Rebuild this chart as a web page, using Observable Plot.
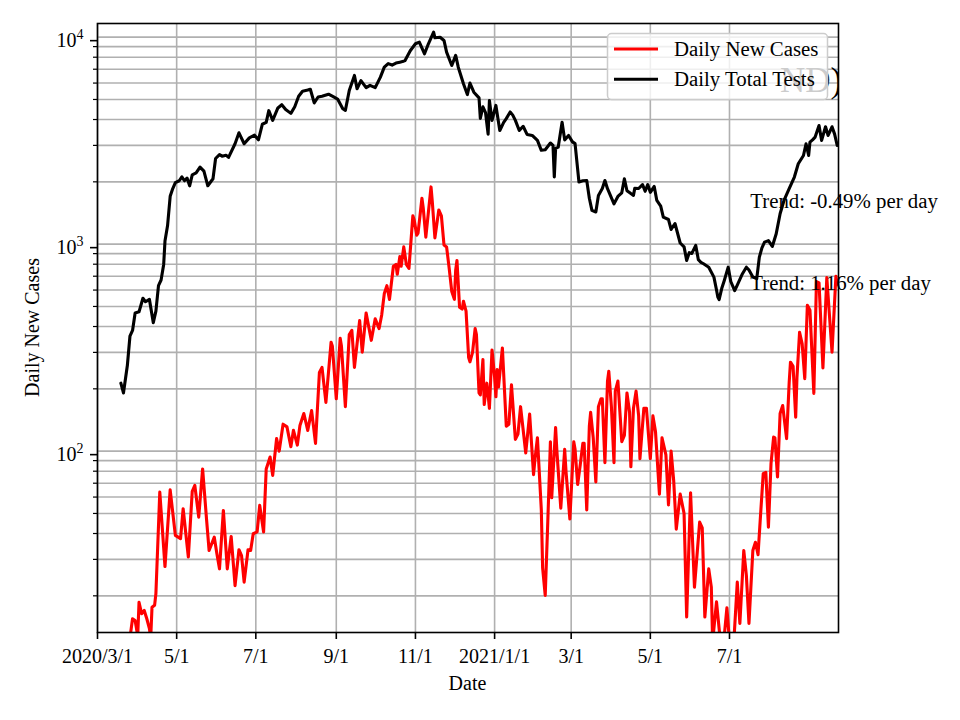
<!DOCTYPE html>
<html><head><meta charset="utf-8">
<script src="https://cdn.jsdelivr.net/npm/d3@7"></script>
<script src="https://cdn.jsdelivr.net/npm/@observablehq/plot@0.6"></script>
<style>html,body{margin:0;padding:0;background:#fff;} svg{display:block;}</style>
</head><body><div id="chart"></div>
<script>
// ---- data ----
const startDate = "2020-03-01";
const endDate = "2021-09-23";

// days since 2020-03-01 and daily total tests
const testsDay = [18,20,23,25,27,29,32,35,37,40,43,45,47,49,51,52,54,56,58,60,63,65,67,69,71,73,76,79,82,85,89,91,94,96,99,101,106,109,113,117,121,124,127,130,132,135,139,142,145,149,152,155,158,162,164,167,170,173,178,182,185,189,191,194,198,200,203,207,210,214,218,221,224,227,230,233,235,237,241,245,248,252,255,259,260,264,267,269,273,276,278,282,285,287,290,294,295,297,299,301,302,304,307,310,313,315,318,320,322,325,328,331,335,339,342,345,349,351,352,353,355,358,360,363,366,368,371,374,377,379,381,384,386,389,391,393,398,401,404,406,408,411,413,414,417,420,422,424,426,429,431,434,436,440,442,445,447,449,452,454,456,458,461,463,465,467,471,475,477,478,479,481,483,486,488,491,493,497,500,502,505,508,510,512,514,517,520,523,526,529,533,537,540,544,546,548,549,551,553,556,558,561,563,566,568,570];
const testsValue = [213,191,259,359,383,465,471,548,527,541,417,475,630,671,798,1035,1230,1703,1857,1983,2024,2114,2024,2085,1914,2161,2209,2356,2255,1914,2070,2592,2707,2660,2690,2625,3055,3450,3055,3261,3360,3190,3795,3875,4413,3963,4550,4714,4470,4283,4612,5180,5480,5550,5600,4810,5140,5180,5300,5140,5025,4510,4430,5520,6530,5630,6170,5700,5850,5700,6410,7160,7450,7330,7500,7570,7620,7710,8600,9290,9460,8310,9290,10570,9930,9990,9640,8470,7300,8160,7160,5960,5280,6000,5420,5090,4045,4610,4320,3400,4940,3960,4680,3540,3875,4040,4350,4200,3960,3540,3710,3390,3350,3170,2840,2860,3080,3000,2110,2900,2940,3880,3190,3350,3120,3060,1995,2024,2030,1667,1457,1430,1720,1857,2030,1853,1565,1700,1770,2070,1812,1755,1720,1860,1857,1940,1800,1940,1780,1900,1626,1527,1350,1315,1178,1258,1129,1013,970,834,910,902,986,841,817,804,774,693,600,555,540,610,668,774,660,597,634,720,774,750,693,681,865,960,1023,1040,975,1122,1403,1626,1853,2110,2445,2680,3055,2683,3110,3190,3290,3740,3170,3690,3350,3690,3400,3000];

// days since 2020-03-01 and daily new cases
const casesDay = [20,23,25,27,29,31,32,34,36,38,40,41,42,44,45,48,52,56,60,64,66,70,73,75,78,81,84,86,90,92,94,97,100,103,106,109,111,113,116,118,120,123,125,128,130,133,135,138,140,143,146,149,151,154,156,159,162,165,168,171,173,176,180,181,184,187,188,191,194,196,198,202,204,207,211,214,217,219,221,223,225,228,230,231,233,234,236,238,240,243,244,246,247,250,251,253,257,258,260,263,265,267,269,271,273,275,276,277,279,281,282,284,286,287,289,291,292,294,295,297,298,300,301,302,304,306,307,308,309,312,315,317,319,322,324,326,330,333,336,337,339,342,343,345,347,349,350,353,354,357,360,361,364,367,368,370,372,374,375,377,379,380,382,384,386,388,389,391,393,394,396,398,399,401,402,404,406,408,410,411,413,415,417,418,421,423,426,428,430,433,435,438,440,442,444,446,449,452,454,457,460,464,466,468,471,473,474,477,480,482,485,487,490,493,495,498,500,502,505,507,509,511,513,515,517,519,521,522,524,526,528,531,533,534,536,538,539,541,543,545,547,549,552,554,556,559,562,566,569,570];
const casesValue = [8,10,12.5,15.5,15.2,12.8,18.6,16.4,17,15.5,13.9,12.5,17.6,18,20.5,63.4,27.7,65,39.2,37.8,52.7,30.8,64,68.3,48,82,47.1,33.1,38.4,31.9,27,51.7,27,38.7,22.4,33.4,31.3,23.3,33.4,33.1,39.9,40.7,54.7,40.7,82,93.6,76.4,115,100,135,131,105,126,107,133,152,126,157,109,240,254,172,336,321,179,351,321,164,366,383,254,427,301,465,343,436,391,455,577,630,541,782,798,716,871,782,970,798,764,1371,1313,1105,1130,1667,1496,1081,1890,1600,1072,1463,1371,991,970,764,590,541,748,834,496,486,530,475,283,270,300,391,366,191,187,277,168,213,187,161,308,228,183,248,204,315,132,135,209,114,121,164,98,151,77,90,116,52,27.3,20.1,45.9,111,59.5,130,100,53,102,80,47,111,102,69,86,109,109,52,132,154,116,71,164,179,179,88,218,243,164,88,195,218,175,111,119,191,154,84,161,195,148,92,161,161,92,148,124,62,116,96,55,100,72,42,62,50,15.8,63,22,45.4,42.6,15.8,27,22,12,18.7,12,11,17.5,12,11,23.3,14.7,33.1,25.1,14.7,33.1,36.3,31.6,49.9,77.8,79,42.9,87,117,116,75,152,166,115,215,269,257,146,228,375,330,224,507,480,190,660,650,252,690,301,700,640];

// axis ticks
const xTickDates = ["2020-03-01","2020-05-01","2020-07-01","2020-09-01","2020-11-01","2021-01-01","2021-03-01","2021-05-01","2021-07-01"];
const xTickLabels = ["2020/3/1","5/1","7/1","9/1","11/1","2021/1/1","3/1","5/1","7/1"];
const yMajorTicks = [100, 1000, 10000];
const yMinorTicks = [20,30,40,50,60,70,80,90,200,300,400,500,600,700,800,900,2000,3000,4000,5000,6000,7000,8000,9000];
const yDomain = [13.3, 11640];

// annotations
const trendDate = "2021-07-17";
const trendLabels = ["Trend: -0.49% per day", "Trend: 1.16% per day"];
const trendValues = [1500, 600];
const seriesNames = ["Daily New Cases", "Daily Total Tests"];
const seriesColors = ["red", "black"];

// ---- build ----
const start = new Date(startDate + "T00:00:00Z");
const toDate = d => new Date(start.getTime() + d * 864e5);
const tests = testsDay.map((d, i) => ({date: toDate(d), value: testsValue[i]}));
const cases = casesDay.map((d, i) => ({date: toDate(d), value: casesValue[i]}));
const xTicks = xTickDates.map(s => new Date(s + "T00:00:00Z"));
const labelByTime = new Map(xTicks.map((d, i) => [+d, xTickLabels[i]]));
const notes = trendLabels.map((t, i) => ({date: new Date(trendDate + "T00:00:00Z"), value: trendValues[i], label: t}));

const FONT = "'Liberation Serif', 'Times New Roman', serif";
const grid = "#b0b0b0";

const plot = Plot.plot({
  width: 960, height: 720,
  marginTop: 23, marginRight: 122, marginBottom: 88, marginLeft: 97,
  style: {fontFamily: FONT, fontSize: "20px", color: "black", background: "white", overflow: "visible"},
  x: {type: "utc", domain: [start, new Date(endDate + "T00:00:00Z")]},
  y: {type: "log", domain: yDomain},
  marks: [
    Plot.ruleY([...yMajorTicks, ...yMinorTicks], {stroke: grid, strokeWidth: 1.6}),
    Plot.ruleX(xTicks, {stroke: grid, strokeWidth: 1.6}),
    Plot.line(cases, {x: "date", y: "value", stroke: seriesColors[0], strokeWidth: 3.1, strokeLinejoin: "round", clip: true}),
    Plot.line(tests, {x: "date", y: "value", stroke: seriesColors[1], strokeWidth: 3.1, strokeLinejoin: "round", clip: true}),
    Plot.text(notes, {x: "date", y: "value", text: "label", textAnchor: "start", lineAnchor: "bottom", fill: "black", fontSize: 20.8}),
    Plot.frame({stroke: "black", strokeWidth: 1.6}),
    Plot.axisX(xTicks, {tickSize: 7, tickPadding: 9, strokeWidth: 1.6, tickFormat: d => labelByTime.get(+d), label: null}),
    Plot.axisY(yMajorTicks, {tickSize: 7, tickPadding: 7, strokeWidth: 1.6, dy: 3.5, tickFormat: d => "10^" + Math.round(Math.log10(d)), label: null}),
    Plot.axisY(yMinorTicks, {tickSize: 4, strokeWidth: 1.2, tickFormat: () => "", label: null})
  ]
});

const svg = d3.select(plot);
// superscript exponents on y tick labels
svg.selectAll("text").each(function() {
  const s = this.textContent;
  const m = /^10\^(\d+)$/.exec(s);
  if (!m) return;
  const t = d3.select(this);
  t.text(null);
  t.append("tspan").text("10");
  t.append("tspan").attr("dy", -8).attr("font-size", 14).text(m[1]);
});

// clip for the watermark
const defs = svg.append("defs");
defs.append("clipPath").attr("id", "axclip").append("rect").attr("x", 97).attr("y", 23).attr("width", 741).attr("height", 609);

svg.append("text").attr("x", 780).attr("y", 92).attr("font-size", 35).attr("font-family", FONT)
  .attr("text-anchor", "start").attr("fill", "black").attr("clip-path", "url(#axclip)").text("ND)");

// legend
const lg = svg.append("g").attr("text-anchor", "start");
lg.append("rect").attr("x", 607.5).attr("y", 33.5).attr("width", 220).attr("height", 66).attr("rx", 4)
  .attr("fill", "white").attr("fill-opacity", 0.8).attr("stroke", "#cccccc").attr("stroke-width", 1.5);
seriesNames.forEach((name, i) => {
  const y = 49 + i * 30.3;
  lg.append("line").attr("x1", 614).attr("x2", 658).attr("y1", y).attr("y2", y)
    .attr("stroke", seriesColors[i]).attr("stroke-width", 3.1);
  lg.append("text").attr("x", 674).attr("y", y + 6.8).attr("font-size", 20.8).attr("font-family", FONT)
    .attr("text-anchor", "start").attr("fill", "black").text(name);
});

// axis labels
svg.append("text").attr("x", 467.5).attr("y", 690).attr("text-anchor", "middle").attr("font-size", 20)
  .attr("font-family", FONT).attr("fill", "black").text("Date");
svg.append("text").attr("transform", "translate(39,327.5) rotate(-90)").attr("text-anchor", "middle")
  .attr("font-size", 20).attr("font-family", FONT).attr("fill", "black").text("Daily New Cases");

document.getElementById("chart").appendChild(plot);
</script></body></html>
